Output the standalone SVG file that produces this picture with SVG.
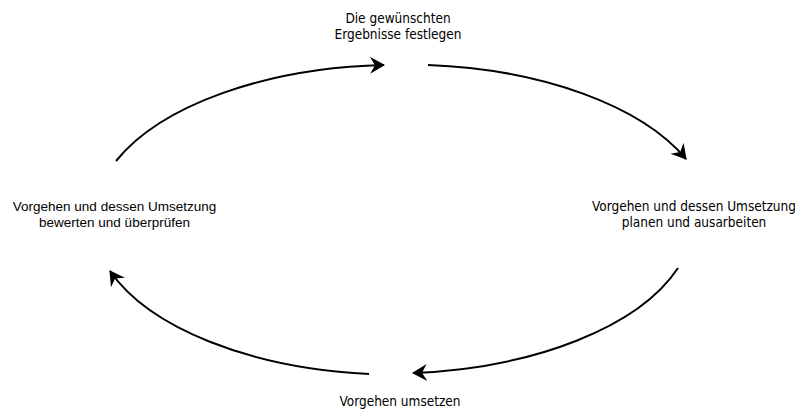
<svg xmlns="http://www.w3.org/2000/svg" width="795" height="410" viewBox="0 0 795 410">
<style>
.t{font-family:"DejaVu Sans Condensed","DejaVu Sans",sans-serif;font-stretch:condensed;font-size:13.5px;fill:#000;text-anchor:middle}
.a{font-family:"Liberation Sans",Arial,sans-serif;font-size:13.5px;fill:#000;text-anchor:middle}
.c{fill:none;stroke:#000;stroke-width:2}
</style>
<defs>
<marker id="ah" markerUnits="userSpaceOnUse" viewBox="-16 -10 20 20" refX="0" refY="0" markerWidth="20" markerHeight="20" orient="auto" overflow="visible">
<path d="M1,0 L-14,-8.5 L-9,0 L-14,8.5 Z" fill="#000"/>
</marker>
</defs>
<rect width="795" height="410" fill="#fff"/>
<g id="connectors">
<path class="c" d="M116,161 A305,155 0 0 1 384,65" marker-end="url(#ah)"/>
<path class="c" d="M428,65 A305,155 0 0 1 686,159" marker-end="url(#ah)"/>
<path class="c" d="M678,268 A305,155 0 0 1 413,373" marker-end="url(#ah)"/>
<path class="c" d="M369,374 A305,155 0 0 1 110,271" marker-end="url(#ah)"/>
</g>
<g id="node-top">
<text class="t" x="398" y="23">Die gewünschten</text>
<text class="t" x="398" y="39">Ergebnisse festlegen</text>
</g>
<g id="node-right">
<text class="t" x="694" y="211">Vorgehen und dessen Umsetzung</text>
<text class="t" x="694" y="227">planen und ausarbeiten</text>
</g>
<g id="node-bottom">
<text class="t" x="400" y="406">Vorgehen umsetzen</text>
</g>
<g id="node-left">
<text class="a" x="114.5" y="211">Vorgehen und dessen Umsetzung</text>
<text class="a" x="114.5" y="227">bewerten und überprüfen</text>
</g>
</svg>
